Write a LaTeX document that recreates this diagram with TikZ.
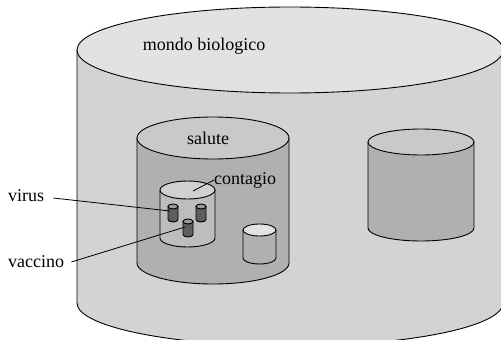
\documentclass[tikz,border=0pt]{standalone}
\usepackage{fontspec}
\setmainfont{Liberation Serif}
\definecolor{bigtop}{HTML}{E2E2E4}
\definecolor{bigbody}{HTML}{D2D3D5}
\definecolor{midtop}{HTML}{C9C9CB}
\definecolor{midbody}{HTML}{B0B0B2}
\definecolor{ctop}{HTML}{D0D0D2}
\definecolor{cbody}{HTML}{BDBDBF}
\definecolor{darkbody}{HTML}{5E5E60}
\definecolor{darktop}{HTML}{9A9A9C}
\tikzset{
  lbl/.style={font=\fontsize{18}{20}\selectfont, inner sep=0pt},
  lead/.style={draw, line width=0.8pt},
  outl/.style={draw, line width=0.9pt}
}
% #1 cx, #2 topY, #3 botY, #4 rx, #5 ry, #6 top fill, #7 body fill
\newcommand{\mycyl}[7]{%
  \path[outl, fill=#7] ({#1-#4},#2) -- ({#1-#4},#3)
     arc[start angle=180, end angle=0, x radius=#4, y radius=#5]
     -- ({#1+#4},#2) -- cycle;
  \path[outl, fill=#6] (#1,#2) ellipse [x radius=#4, y radius=#5];
}
\begin{document}
\begin{tikzpicture}[x=1pt,y=-1pt]
\useasboundingbox (0,0) rectangle (501,340);
\fill[white] (0,0) rectangle (501,340);
\begin{scope}
\clip (0,0) rectangle (501,340);
\mycyl{290}{50}{303}{213}{43}{bigtop}{bigbody}
\end{scope}
% salute
\mycyl{213}{138}{263}{76}{21}{midtop}{midbody}
% right cylinder
\mycyl{421}{142}{228}{53}{13}{midtop}{midbody}
% contagio
\mycyl{187.5}{190}{238}{27.5}{9}{ctop}{cbody}
% small one lower right
\mycyl{259.5}{230}{258}{16.5}{6}{bigtop}{midbody}
% tiny dark ones
\mycyl{173}{206.5}{219.5}{5}{2.5}{darktop}{darkbody}
\mycyl{201}{206.5}{219.5}{5}{2.5}{darktop}{darkbody}
\mycyl{188}{221.5}{234.5}{5}{2.5}{darktop}{darkbody}
% named anchors
\coordinate (vt) at (170,211);
\coordinate (vc) at (185,227);
\coordinate (ct) at (193,191);
% labels
\node[lbl] (mondo) at (204,46) {mondo biologico};
\node[lbl] (salute) at (208,138) {salute};
\node[lbl, anchor=west] (contagio) at (214,180) {contagio};
\node[lbl, anchor=west] (virus) at (8,196) {virus};
\node[lbl, anchor=west] (vaccino) at (8,262) {vaccino};
\draw[lead] ([xshift=9pt,yshift=-2pt]virus.east) -- (vt);
\draw[lead] ([xshift=7pt]vaccino.east) -- (vc);
\draw[lead] (ct) -- (contagio.west);
\end{tikzpicture}
\end{document}
